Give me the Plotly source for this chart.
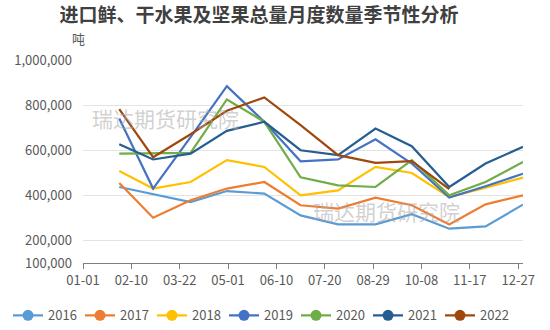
import plotly.graph_objects as go

dates = ["2021-01-31", "2021-02-28", "2021-03-31", "2021-04-30", "2021-05-31", "2021-06-30",
         "2021-07-31", "2021-08-31", "2021-09-30", "2021-10-31", "2021-11-30", "2021-12-31"]

years = ["2016", "2017", "2018", "2019", "2020", "2021", "2022"]

y2016 = [437000, 404000, 370000, 419000, 408000, 311000, 271000, 271000, 316000, 252000, 262000, 359000]
y2017 = [455000, 301000, 378000, 430000, 459000, 356000, 341000, 390000, 356000, 271000, 360000, 400000]
y2018 = [508000, 430000, 459000, 556000, 526000, 400000, 422000, 526000, 499000, 392000, 434000, 479000]
y2019 = [741000, 430000, 658000, 884000, 726000, 551000, 559000, 648000, 541000, 390000, 440000, 496000]
y2020 = [585000, 585000, 588000, 825000, 726000, 480000, 444000, 437000, 556000, 400000, 459000, 548000]
y2021 = [627000, 559000, 585000, 686000, 726000, 600000, 578000, 696000, 618000, 437000, 541000, 615000]
y2022 = [782000, 569000, 671000, 775000, 834000, 711000, 578000, 544000, 552000, 427000]

series = [y2016, y2017, y2018, y2019, y2020, y2021, y2022]
colors = ["#5b9bd5", "#ed7d31", "#ffc000", "#4472c4", "#70ad47", "#255e91", "#9e480e"]

y_tickvals = [100000, 200000, 400000, 600000, 800000, 1000000]
y_ticktext = ["100,000", "200,000", "400,000", "600,000", "800,000", "1,000,000"]

FONT = "Noto Sans CJK SC"
PL, PR, PT, PB = 83, 523, 60, 262.7
PW, PH = PR - PL, PB - PT


def px(x):
    return (x - PL) / PW


def py(y):
    return (PB - y) / PH


fig = go.Figure()
for name, vals, col in zip(years, series, colors):
    fig.add_trace(go.Scatter(
        x=dates[:len(vals)], y=vals, mode="lines", name=name,
        line=dict(color=col, width=2.2), showlegend=False))
for name, col in zip(years, colors):
    fig.add_trace(go.Scatter(
        x=[None], y=[None], mode="lines+markers", name=name,
        line=dict(color=col, width=2.2), marker=dict(color=col, size=11)))

fig.update_layout(
    width=550, height=330,
    margin=dict(l=PL, r=550 - PR, t=PT, b=330 - PB, autoexpand=False),
    paper_bgcolor="white", plot_bgcolor="white",
    font=dict(family=FONT, size=13, color="#595959"),
    title=dict(text="<b>进口鲜、干水果及坚果总量月度数量季节性分析</b>",
               x=259 / 550, xanchor="center", y=1 - 15 / 330, yanchor="middle",
               font=dict(family=FONT, size=19, color="#404040")),
    showlegend=True,
    legend=dict(orientation="h", x=px(8), xref="paper", xanchor="left",
                y=py(315), yref="paper", yanchor="middle",
                font=dict(size=13, color="#595959"), itemwidth=30,
                entrywidth=27, entrywidthmode="pixels"),
    xaxis=dict(type="date", range=["2021-01-01", "2021-12-31"],
               tick0="2021-01-01", dtick=40 * 86400000, tickformat="%m-%d",
               showgrid=False, showline=True, linecolor="#7f7f7f", linewidth=1,
               ticks="outside", ticklen=5, tickcolor="#7f7f7f",
               tickfont=dict(size=13, color="#595959"), zeroline=False),
    yaxis=dict(range=[100000, 1000000], tickvals=y_tickvals, ticktext=y_ticktext,
               showgrid=True, gridcolor="#e3e3e3", gridwidth=1, zeroline=False,
               showline=False, ticklabelstandoff=10,
               tickfont=dict(size=13, color="#595959")),
    annotations=[
        dict(text="吨", xref="paper", yref="paper", x=px(78), y=py(39),
             xanchor="center", yanchor="middle", showarrow=False,
             font=dict(family=FONT, size=13, color="#595959")),
        dict(text="瑞达期货研究院", xref="paper", yref="paper",
             x=px(165), y=py(118), xanchor="center", yanchor="middle",
             showarrow=False, font=dict(family=FONT, size=21, color="rgba(170,170,170,0.55)")),
        dict(text="瑞达期货研究院", xref="paper", yref="paper",
             x=px(386), y=py(211), xanchor="center", yanchor="middle",
             showarrow=False, font=dict(family=FONT, size=21, color="rgba(170,170,170,0.55)")),
    ],
)

fig.write_html("out.html")
